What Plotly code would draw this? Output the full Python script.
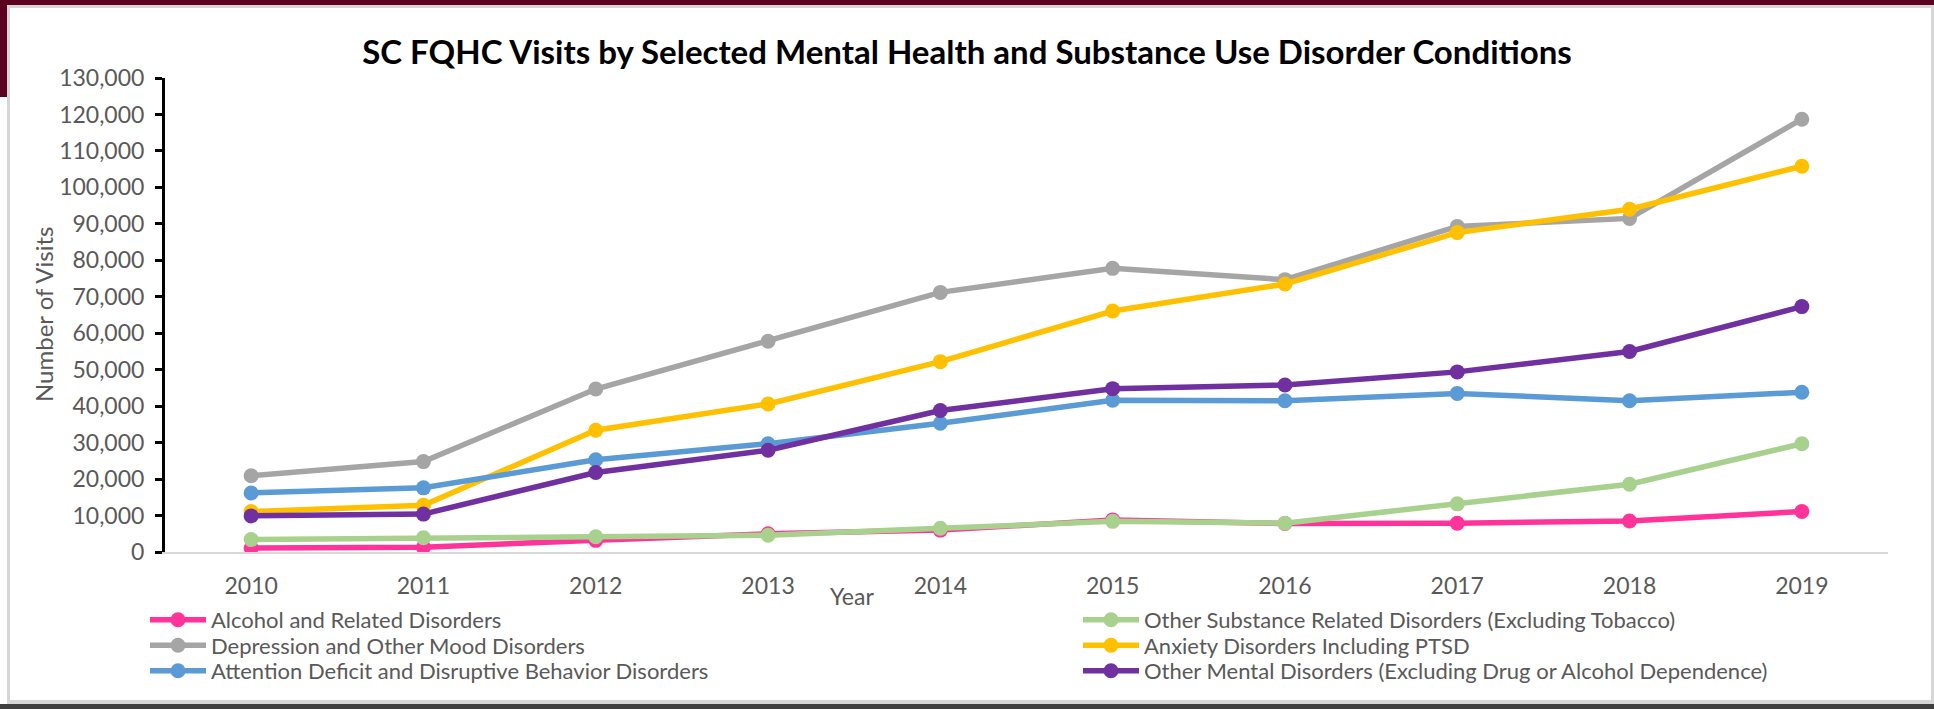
import plotly.graph_objects as go

# ---------------- data ----------------
years = ["2010", "2011", "2012", "2013", "2014", "2015", "2016", "2017", "2018", "2019"]

alcohol = [1100, 1300, 3200, 5000, 6000, 8800, 7800, 7900, 8500, 11100]
other_substance = [3400, 3900, 4200, 4600, 6500, 8400, 7900, 13200, 18600, 29700]
depression = [20900, 24800, 44700, 57800, 71200, 77800, 74700, 89300, 91500, 118700]
anxiety = [11100, 12800, 33400, 40600, 52200, 66100, 73500, 87600, 94000, 105800]
adhd = [16200, 17600, 25300, 29700, 35300, 41600, 41500, 43500, 41500, 43800]
other_mental = [9900, 10400, 21800, 27900, 38800, 44800, 45800, 49400, 55000, 67300]

series_names = [
    "Alcohol and Related Disorders",
    "Other Substance Related Disorders (Excluding Tobacco)",
    "Depression and Other Mood Disorders",
    "Anxiety Disorders Including PTSD",
    "Attention Deficit and Disruptive Behavior Disorders",
    "Other Mental Disorders (Excluding Drug or Alcohol Dependence)",
]
series_values = [alcohol, other_substance, depression, anxiety, adhd, other_mental]
series_colors = ["#FF3399", "#A9D18E", "#A5A5A5", "#FFC000", "#5B9BD5", "#7030A0"]
series_legend = ["legend", "legend", "legend2", "legend2", "legend3", "legend3"]
series_legendwidth = [862, 700, 862, 700, 862, 700]

title_text = "SC FQHC Visits by Selected Mental Health and Substance Use Disorder Conditions"

# ---------------- layout geometry (pixels) ----------------
W, H = 1934, 709
L, R, T, B = 165, 46, 78, 157
PW, PH = W - L - R, H - T - B


def xp(px):
    return (px - L) / PW


def yp(py):
    return (H - B - py) / PH


FONT = "Lato"
TXT = "#595959"

fig = go.Figure()
for name, vals, col, lg, lw in zip(series_names, series_values, series_colors,
                                   series_legend, series_legendwidth):
    fig.add_trace(go.Scatter(
        x=years, y=vals, name=name, mode="lines+markers",
        line=dict(color=col, width=5.5),
        marker=dict(color=col, size=15),
        legend=lg, legendwidth=lw,
    ))

legend_common = dict(
    orientation="h", x=xp(145), xanchor="left", yanchor="top",
    itemwidth=56, font=dict(family=FONT, size=22, color=TXT),
    bgcolor="rgba(0,0,0,0)", traceorder="normal",
)

fig.update_layout(
    width=W, height=H, autosize=False,
    margin=dict(l=L, r=R, t=T, b=B, autoexpand=False),
    paper_bgcolor="white", plot_bgcolor="white",
    title=dict(text=title_text, x=0.5, xanchor="center", xref="container",
               y=1 - 52 / H, yanchor="middle", yref="container",
               font=dict(family=FONT, size=33, color="black", weight="bold")),
    showlegend=True,
    legend=dict(legend_common, y=yp(599)),
    legend2=dict(legend_common, y=yp(624.5)),
    legend3=dict(legend_common, y=yp(650)),
    xaxis=dict(type="category", range=[-0.5, 9.5], showgrid=False, zeroline=False,
               showline=True, linecolor="#D9D9D9", linewidth=2, ticks="",
               tickfont=dict(family=FONT, size=23, color=TXT), ticklabelstandoff=12),
    yaxis=dict(range=[0, 130000], dtick=10000, tickformat=",", showgrid=False,
               zeroline=False, showline=True, linecolor="black", linewidth=3,
               ticks="outside", ticklen=7, tickwidth=2.5, tickcolor="black",
               tickfont=dict(family=FONT, size=23, color=TXT), ticklabelstandoff=6),
    annotations=[
        dict(text="Number of Visits", xref="paper", yref="paper", x=xp(43), y=0.5,
             xanchor="center", yanchor="middle", textangle=-90, showarrow=False,
             font=dict(family=FONT, size=24, color=TXT)),
        dict(text="Year", xref="paper", yref="paper", x=xp(852), y=yp(596),
             xanchor="center", yanchor="middle", showarrow=False,
             font=dict(family=FONT, size=23, color=TXT)),
    ],
)

# slide frame decoration
frame = [
    (0, 0, W, 5, "#5C0120"),
    (0, 0, 7, 97, "#5C0120"),
    (7, 5, W, 8, "#D6D6D6"),
    (7, 8, 10, 704, "#D6D6D6"),
    (W - 3, 5, W, 704, "#D6D6D6"),
    (7, 700, W, 704, "#D6D6D6"),
    (0, 704, W, H, "#3F3F3F"),
]
for x0, y0, x1, y1, c in frame:
    fig.add_shape(type="rect", xref="paper", yref="paper",
                  x0=xp(x0), x1=xp(x1), y0=yp(y1), y1=yp(y0),
                  fillcolor=c, line=dict(width=0), layer="above")

fig.write_html(
    "out.html",
    config={"displayModeBar": False},
    post_script="document.body.style.margin='0px';document.body.style.overflow='hidden';",
)
